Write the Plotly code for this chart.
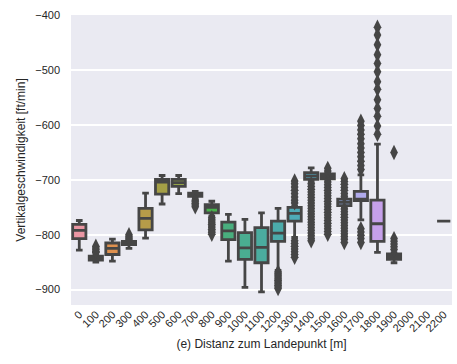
import colorsys
import math

import plotly.graph_objects as go

# ---- data -----------------------------------------------------------------
distances = ["0", "100", "200", "300", "400", "500", "600", "700", "800", "900",
             "1000", "1100", "1200", "1300", "1400", "1500", "1600", "1700",
             "1800", "1900", "2000", "2100", "2200"]

# per-distance box statistics (None = no data in that bin)
q1 = [-807, -846, -836, -818, -791, -726, -712, -730, -760, -809,
      -845, -851, -812, -775, -699, -698, -747, -738, -812, -845,
      None, None, -775]
median = [-792, -842, -825, -815, -770, -704, -705, -727, -750, -793,
          -824, -823, -797, -761, -693, -694, -741, -735, -780, -840,
          None, None, -775]
q3 = [-781, -839, -815, -812, -752, -699, -699, -724, -745, -777,
      -796, -787, -775, -750, -687, -689, -735, -721, -737, -835,
      None, None, -775]
lower_fence = [-828, -850, -848, -825, -806, -744, -725, -734, -766, -848,
               -896, -904, -865, -805, -703, -700, -750, -773, -832, -851,
               None, None, -775]
upper_fence = [-774, -834, -808, -811, -724, -692, -692, -721, -739, -763,
               -772, -760, -752, -748, -678, -688, -733, -691, -635, -833,
               None, None, -775]

outliers = {
    "100": [-821, -824, -827, -830, -832],
    "300": [-800, -803, -806, -808],
    "700": [-737, -740, -743, -746, -749],
    "800": [-769, -772, -775, -778, -781, -784, -787, -790, -793, -796, -799],
    "1200": [-868, -871, -874, -877, -880, -883, -886, -889, -892, -895, -898],
    "1300": [-702, -707, -713, -719, -725, -731, -737, -742,
             -811, -816, -821, -826, -831, -836, -841],
    "1400": [-707, -712, -717, -722, -727, -732, -737, -742, -747, -752,
             -757, -762, -767, -772, -777, -782, -787, -792, -797, -802,
             -807, -811],
    "1500": [-679, -684,
             -704, -709, -714, -719, -724, -729, -734, -739, -744, -749,
             -754, -759, -764, -769, -774, -779, -784, -789, -794, -799],
    "1600": [-698, -703, -708, -714, -719, -725, -730,
             -753, -758, -763, -768, -773, -778, -783, -788, -793,
             -798, -803, -808, -814],
    "1700": [-593, -601, -609, -617, -625, -634, -642, -650, -658, -666,
             -674, -681,
             -789, -795, -801, -807, -814],
    "1800": [-422, -436, -454, -472, -488, -503, -521, -535, -554, -570,
             -584, -602, -617],
    "1900": [-650, -807, -812, -817, -822, -827],
}

y_ticks = [-400, -500, -600, -700, -800, -900]


# ---- seaborn-style husl palette -------------------------------------------
_M = [[3.240969941904521, -1.537383177570093, -0.498610760293],
      [-0.96924363628087, 1.87596750150772, 0.041555057407175],
      [0.055630079696993, -0.20397695888897, 1.056971514242878]]
_REF_U, _REF_V = 0.19783000664283, 0.46831999493879
_KAPPA, _EPS = 903.2962962, 0.0088564516


def _bounds(L):
    sub1 = ((L + 16) ** 3) / 1560896
    sub2 = sub1 if sub1 > _EPS else L / _KAPPA
    out = []
    for m1, m2, m3 in _M:
        for t in (0, 1):
            top1 = (284517 * m1 - 94839 * m3) * sub2
            top2 = (838422 * m3 + 769860 * m2 + 731718 * m1) * L * sub2 - 769860 * t * L
            bottom = (632260 * m3 - 126452 * m2) * sub2 + 126452 * t
            out.append((top1 / bottom, top2 / bottom))
    return out


def _max_chroma(L, H):
    hrad = H / 360 * 2 * math.pi
    best = float("inf")
    for slope, intercept in _bounds(L):
        denom = math.sin(hrad) - slope * math.cos(hrad)
        if denom == 0:
            continue
        length = intercept / denom
        if length >= 0:
            best = min(best, length)
    return best


def _from_linear(c):
    return 12.92 * c if c <= 0.0031308 else 1.055 * c ** (1 / 2.4) - 0.055


def husl_to_rgb(H, S, L):
    C = _max_chroma(L, H) / 100 * S
    hrad = math.radians(H)
    U, V = C * math.cos(hrad), C * math.sin(hrad)
    Y = L / _KAPPA if L <= 8 else ((L + 16) / 116) ** 3
    var_u = U / (13 * L) + _REF_U
    var_v = V / (13 * L) + _REF_V
    X = -(9 * Y * var_u) / ((var_u - 4) * var_v - var_u * var_v)
    Z = (9 * Y - 15 * var_v * Y - var_v * X) / (3 * var_v)
    rgb = []
    for row in _M:
        c = _from_linear(row[0] * X + row[1] * Y + row[2] * Z)
        rgb.append(min(max(c, 0.0), 1.0))
    return rgb


def palette(n, h=0.01, s=0.9, l=0.7, desat=0.75):
    cols = []
    for i in range(n):
        hue = ((i / n + h) % 1) * 359
        r, g, b = husl_to_rgb(hue, s * 99, l * 99)
        hh, ll, ss = colorsys.rgb_to_hls(r, g, b)
        cols.append(colorsys.hls_to_rgb(hh, ll, ss * desat))
    return cols


rgb_cols = palette(len(distances))
lum = min(colorsys.rgb_to_hls(*c)[1] for c in rgb_cols) * 0.6
g = int(round(lum * 255))
GRAY = f"rgb({g},{g},{g})"
FILLS = [f"rgb({int(round(r*255))},{int(round(gg*255))},{int(round(b*255))})"
         for r, gg, b in rgb_cols]

# ---- figure ---------------------------------------------------------------
fig = go.Figure()

for i, cat in enumerate(distances):
    if median[i] is None:
        continue
    fig.add_trace(go.Box(
        x=[cat],
        q1=[q1[i]], median=[median[i]], q3=[q3[i]],
        lowerfence=[lower_fence[i]], upperfence=[upper_fence[i]],
        width=0.8, whiskerwidth=0.5,
        fillcolor=FILLS[i],
        line=dict(color=GRAY, width=2.8),
        boxpoints=False,
        showlegend=False,
        hoverinfo="skip",
    ))

for cat, vals in outliers.items():
    fig.add_trace(go.Scatter(
        x=[cat] * len(vals), y=vals,
        mode="markers",
        marker=dict(symbol="diamond-tall", size=11, color=GRAY,
                    line=dict(color=GRAY, width=0)),
        showlegend=False,
        hoverinfo="skip",
    ))

fig.update_layout(
    width=457, height=364,
    margin=dict(l=71, r=5, t=15, b=59),
    paper_bgcolor="white",
    plot_bgcolor="#eaeaf2",
    boxmode="overlay",
    font=dict(family="Liberation Sans, Arial, sans-serif", size=11, color="#262626"),
    xaxis=dict(
        type="category",
        categoryorder="array",
        categoryarray=distances,
        range=[-0.5, len(distances) - 0.5],
        tickangle=-45,
        showgrid=False,
        zeroline=False,
        showline=False,
        ticks="",
        tickfont=dict(size=11),
        title=dict(text="(e) Distanz zum Landepunkt [m]", font=dict(size=12), standoff=6),
    ),
    yaxis=dict(
        range=[-928, -399.6],
        tickvals=y_ticks,
        showgrid=True,
        gridcolor="white",
        gridwidth=1.5,
        zeroline=False,
        showline=False,
        ticks="",
        ticklabelstandoff=10,
        tickfont=dict(size=11),
        title=dict(text="Vertikalgeschwindigkeit [ft/min]", font=dict(size=12), standoff=7),
    ),
)

fig.write_html("out.html")
